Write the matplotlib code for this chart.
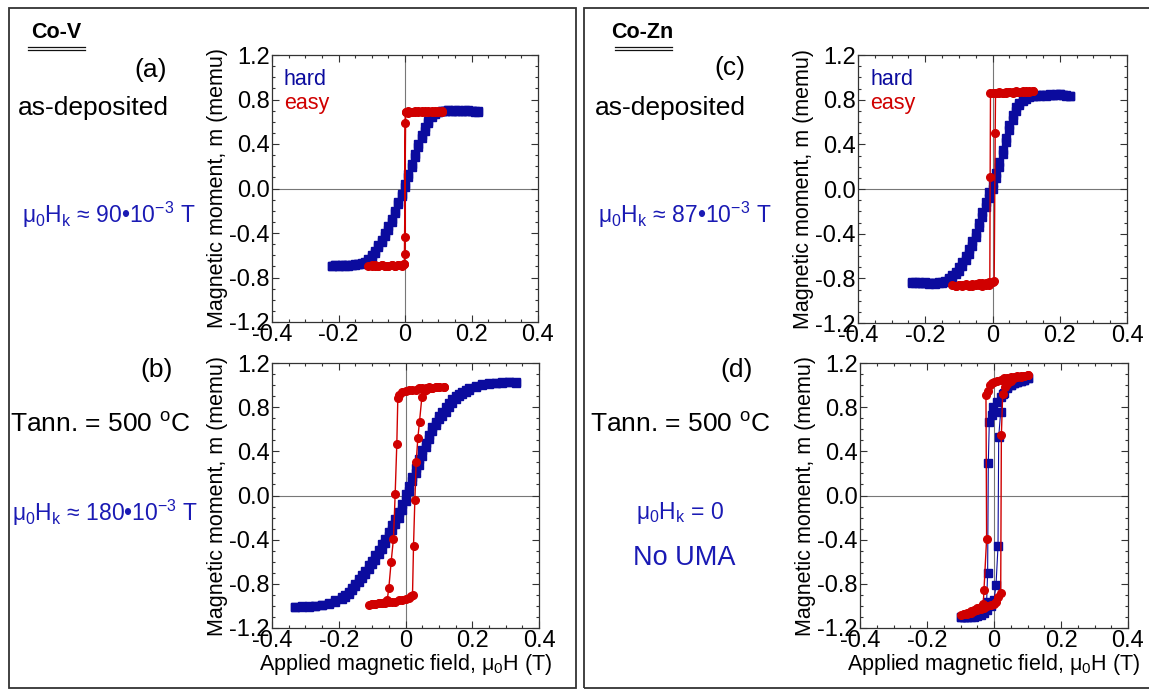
import matplotlib
matplotlib.use('Agg')
import matplotlib.pyplot as plt
from matplotlib.ticker import MultipleLocator, FixedLocator
from matplotlib.patches import Rectangle
from matplotlib.lines import Line2D

plt.rcParams['font.family'] = ['Liberation Sans', 'DejaVu Sans']
plt.rcParams['mathtext.fontset'] = 'custom'
plt.rcParams['mathtext.rm'] = 'Liberation Sans'
plt.rcParams['mathtext.it'] = 'Liberation Sans'
plt.rcParams['mathtext.bf'] = 'Liberation Sans:bold'
plt.rcParams['axes.unicode_minus'] = False

BLUE = '#0b0b9e'
BLUE_TXT = '#1a1ab4'
RED = '#d00000'

# ---------------- data (field in T, moment in memu) ----------------
# (a) Co-V as-deposited
a_hard_h = [-0.22, -0.21, -0.20, -0.19, -0.18, -0.17, -0.16, -0.15, -0.14, -0.13, -0.12,
            -0.11, -0.10, -0.09, -0.08, -0.07, -0.06, -0.05, -0.04, -0.03, -0.02, -0.01,
            0.00, 0.01, 0.02, 0.03, 0.04, 0.05, 0.06, 0.07, 0.08, 0.09, 0.10, 0.11,
            0.12, 0.13, 0.14, 0.15, 0.16, 0.17, 0.18, 0.19, 0.20, 0.21, 0.22]
a_hard_up = [-0.70, -0.69, -0.70, -0.69, -0.69, -0.70, -0.69, -0.69, -0.68, -0.68, -0.67,
             -0.65, -0.62, -0.58, -0.53, -0.48, -0.43, -0.37, -0.30, -0.22, -0.14, -0.07,
             0.01, 0.10, 0.19, 0.28, 0.37, 0.45, 0.52, 0.59, 0.64, 0.67, 0.69, 0.70,
             0.70, 0.71, 0.70, 0.71, 0.70, 0.70, 0.71, 0.70, 0.70, 0.69, 0.70]
a_hard_down = [-0.70, -0.69, -0.70, -0.69, -0.70, -0.69, -0.69, -0.68, -0.68, -0.67, -0.66,
               -0.63, -0.60, -0.56, -0.51, -0.46, -0.40, -0.34, -0.27, -0.20, -0.12, -0.05,
               0.04, 0.13, 0.22, 0.31, 0.40, 0.48, 0.55, 0.61, 0.66, 0.68, 0.69, 0.70,
               0.70, 0.71, 0.70, 0.70, 0.71, 0.70, 0.70, 0.71, 0.70, 0.70, 0.69]
a_easy_h = [0.11, 0.10, 0.09, 0.08, 0.07, 0.06, 0.05, 0.04, 0.03, 0.02, 0.01,
            0.002, 0.0, 0.0, 0.0, -0.002,
            -0.01, -0.02, -0.03, -0.04, -0.05, -0.06, -0.07, -0.08, -0.09, -0.10, -0.11,
            -0.10, -0.09, -0.08, -0.07, -0.06, -0.05, -0.04, -0.03, -0.02, -0.01,
            -0.002, 0.002,
            0.01, 0.02, 0.03, 0.04, 0.05, 0.06, 0.07, 0.08, 0.09, 0.10, 0.11]
a_easy_m = [0.70, 0.69, 0.70, 0.69, 0.70, 0.69, 0.69, 0.70, 0.69, 0.69, 0.68,
            0.69, 0.59, -0.44, -0.59, -0.68,
            -0.70, -0.69, -0.70, -0.69, -0.70, -0.70, -0.69, -0.70, -0.70, -0.69, -0.70,
            -0.70, -0.69, -0.70, -0.69, -0.70, -0.70, -0.69, -0.70, -0.69, -0.69,
            -0.68, 0.69,
            0.70, 0.69, 0.70, 0.69, 0.70, 0.70, 0.69, 0.70, 0.69, 0.70, 0.69]

# (b) Co-V annealed 500 C
b_hard_h = [-0.33, -0.31, -0.29, -0.27, -0.25, -0.23, -0.21, -0.19,
            -0.18, -0.17, -0.16, -0.15, -0.14, -0.13, -0.12, -0.11, -0.10, -0.09,
            -0.08, -0.07, -0.06, -0.05, -0.04, -0.03, -0.02, -0.01, 0.00, 0.01,
            0.02, 0.03, 0.04, 0.05, 0.06, 0.07, 0.08, 0.09, 0.10, 0.11, 0.12,
            0.13, 0.14, 0.15, 0.16, 0.17, 0.18,
            0.19, 0.21, 0.23, 0.25, 0.27, 0.29, 0.31, 0.33]
b_hard_up = [-1.01, -1.00, -1.01, -1.00, -0.99, -0.98, -0.96, -0.94,
             -0.92, -0.89, -0.86, -0.82, -0.78, -0.75, -0.71, -0.67, -0.62, -0.58,
             -0.53, -0.48, -0.43, -0.37, -0.31, -0.26, -0.20, -0.13, -0.05, 0.04,
             0.13, 0.20, 0.28, 0.36, 0.44, 0.51, 0.58, 0.64, 0.69, 0.72, 0.76,
             0.80, 0.84, 0.87, 0.90, 0.92, 0.94,
             0.96, 0.98, 1.00, 1.01, 1.02, 1.02, 1.03, 1.03]
b_hard_down = [-1.01, -1.01, -1.00, -1.00, -0.99, -0.97, -0.95, -0.92,
               -0.90, -0.87, -0.84, -0.80, -0.76, -0.72, -0.68, -0.63, -0.59, -0.54,
               -0.49, -0.44, -0.39, -0.33, -0.27, -0.21, -0.15, -0.08, 0.01, 0.09,
               0.17, 0.25, 0.33, 0.41, 0.48, 0.55, 0.62, 0.67, 0.72, 0.76, 0.80,
               0.84, 0.87, 0.90, 0.92, 0.94, 0.96,
               0.97, 0.99, 1.01, 1.02, 1.02, 1.03, 1.03, 1.02]
b_easy_h = [0.115, 0.10, 0.09, 0.08, 0.07, 0.06, 0.05, 0.04, 0.03, 0.02, 0.01, 0.0,
            -0.01, -0.018, -0.023, -0.026, -0.031, -0.036, -0.043, -0.05,
            -0.055, -0.06, -0.07, -0.08, -0.09, -0.10, -0.11,
            -0.10, -0.09, -0.08, -0.07, -0.06, -0.05, -0.04, -0.03, -0.02, -0.01,
            0.0, 0.01, 0.017, 0.021, 0.024, 0.028, 0.032, 0.037, 0.042, 0.049,
            0.055, 0.06, 0.07, 0.08, 0.09, 0.10, 0.115]
b_easy_m = [0.98, 0.98, 0.98, 0.97, 0.98, 0.97, 0.97, 0.97, 0.96, 0.96, 0.96, 0.95,
            0.94, 0.91, 0.88, 0.47, 0.01, -0.39, -0.60, -0.84,
            -0.95, -0.96, -0.97, -0.97, -0.98, -0.98, -0.99,
            -0.98, -0.98, -0.97, -0.97, -0.97, -0.96, -0.96, -0.96, -0.95, -0.95,
            -0.94, -0.93, -0.91, -0.90, -0.46, -0.04, 0.30, 0.52, 0.67, 0.89,
            0.95, 0.96, 0.97, 0.97, 0.98, 0.98, 0.98]

# (c) Co-Zn as-deposited
c_hard_h = [-0.24, -0.23, -0.22, -0.21, -0.20, -0.19, -0.18, -0.17, -0.16, -0.15, -0.14, -0.13,
            -0.12, -0.11, -0.10, -0.09, -0.08, -0.07, -0.06, -0.05, -0.04, -0.03, -0.02, -0.01,
            0.00, 0.01, 0.02, 0.03, 0.04, 0.05, 0.06, 0.07, 0.08, 0.09, 0.10, 0.11,
            0.12, 0.13, 0.14, 0.15, 0.16, 0.17, 0.18, 0.19, 0.20, 0.21, 0.22, 0.23]
c_hard_up = [-0.83, -0.84, -0.83, -0.84, -0.84, -0.85, -0.84, -0.84, -0.83, -0.84, -0.83, -0.81,
             -0.79, -0.76, -0.73, -0.69, -0.64, -0.58, -0.51, -0.43, -0.34, -0.25, -0.16, -0.08,
             0.00, 0.10, 0.20, 0.31, 0.42, 0.53, 0.62, 0.70, 0.75, 0.79, 0.81, 0.82,
             0.83, 0.83, 0.84, 0.84, 0.83, 0.84, 0.84, 0.85, 0.85, 0.84, 0.83, 0.83]
c_hard_down = [-0.84, -0.83, -0.84, -0.84, -0.83, -0.84, -0.84, -0.85, -0.84, -0.83, -0.82, -0.80,
               -0.77, -0.74, -0.70, -0.65, -0.60, -0.54, -0.47, -0.39, -0.30, -0.21, -0.12, -0.03,
               0.05, 0.14, 0.24, 0.35, 0.46, 0.57, 0.66, 0.73, 0.77, 0.80, 0.82, 0.83,
               0.83, 0.84, 0.83, 0.84, 0.84, 0.85, 0.84, 0.84, 0.85, 0.84, 0.84, 0.83]
c_easy_h = [0.12, 0.11, 0.10, 0.09, 0.08, 0.07, 0.06, 0.05, 0.04, 0.03, 0.02, 0.01, 0.0,
            -0.006, -0.007, -0.008,
            -0.01, -0.02, -0.03, -0.04, -0.05, -0.06, -0.07, -0.08, -0.09, -0.10, -0.11, -0.12,
            -0.11, -0.10, -0.09, -0.08, -0.07, -0.06, -0.05, -0.04, -0.03, -0.02, -0.01,
            0.0, 0.005, 0.008, 0.009,
            0.01, 0.02, 0.03, 0.04, 0.05, 0.06, 0.07, 0.08, 0.09, 0.10, 0.11, 0.12]
c_easy_m = [0.88, 0.87, 0.88, 0.87, 0.87, 0.87, 0.86, 0.87, 0.86, 0.86, 0.86, 0.86, 0.86,
            0.86, 0.11, -0.84,
            -0.86, -0.86, -0.87, -0.86, -0.86, -0.87, -0.87, -0.86, -0.87, -0.86, -0.87, -0.86,
            -0.87, -0.86, -0.86, -0.85, -0.86, -0.85, -0.85, -0.84, -0.84, -0.84, -0.83,
            -0.83, -0.82, 0.50, 0.86,
            0.86, 0.87, 0.86, 0.87, 0.87, 0.87, 0.88, 0.87, 0.88, 0.87, 0.88, 0.88]

# (d) Co-Zn annealed 500 C
d_hard_down_h = [0.10, 0.09, 0.08, 0.07, 0.06, 0.05, 0.04, 0.03, 0.02, 0.01,
                 -0.002, -0.007, -0.014, -0.017, -0.019, -0.022,
                 -0.03, -0.04, -0.05, -0.06, -0.07, -0.08, -0.09, -0.10]
d_hard_down_m = [1.06, 1.05, 1.04, 1.03, 1.02, 1.00, 0.97, 0.93, 0.89, 0.85,
                 0.80, 0.73, 0.67, 0.29, -0.70, -0.96,
                 -1.03, -1.06, -1.08, -1.09, -1.09, -1.10, -1.10, -1.10]
d_hard_up_h = [-0.10, -0.09, -0.08, -0.07, -0.06, -0.05, -0.04, -0.03, -0.02, -0.01, 0.0,
               0.006, 0.012, 0.014, 0.02, 0.028,
               0.04, 0.05, 0.06, 0.07, 0.08, 0.09, 0.10]
d_hard_up_m = [-1.10, -1.10, -1.10, -1.10, -1.10, -1.09, -1.08, -1.06, -1.04, -1.00, -0.95,
               -0.81, -0.46, 0.53, 0.76, 0.92,
               0.98, 1.00, 1.02, 1.03, 1.04, 1.05, 1.06]
d_easy_h = [0.10, 0.09, 0.08, 0.07, 0.06, 0.05, 0.04, 0.03, 0.02, 0.01, 0.0,
            -0.006, -0.012, -0.019, -0.024, -0.022, -0.03, -0.032,
            -0.04, -0.05, -0.06, -0.07, -0.08, -0.09, -0.10,
            -0.09, -0.08, -0.07, -0.06, -0.05, -0.04, -0.03, -0.02, -0.01, 0.0,
            0.007, 0.013, 0.02, 0.022, 0.026, 0.032, 0.038,
            0.05, 0.06, 0.07, 0.08, 0.09, 0.10]
d_easy_m = [1.09, 1.08, 1.08, 1.08, 1.07, 1.07, 1.06, 1.06, 1.05, 1.04, 1.03,
            1.02, 1.00, 0.95, 0.91, -0.39, -0.86, -0.98,
            -1.01, -1.02, -1.04, -1.05, -1.06, -1.07, -1.08,
            -1.07, -1.07, -1.06, -1.05, -1.04, -1.03, -1.02, -1.00, -0.99, -0.98,
            -0.96, -0.92, -0.88, 0.55, 0.92, 0.98, 1.01,
            1.04, 1.06, 1.07, 1.07, 1.08, 1.09]

x_ticks = [-0.4, -0.2, 0.0, 0.2, 0.4]
x_tick_labels = ['-0.4', '-0.2', '0', '0.2', '0.4']
y_ticks = [-1.2, -0.8, -0.4, 0.0, 0.4, 0.8, 1.2]
y_tick_labels = ['-1.2', '-0.8', '-0.4', '0.0', '0.4', '0.8', '1.2']

W, H = 1149, 690
fig = plt.figure(figsize=(W / 100, H / 100), dpi=100)


def px(x, y):
    # pixel position (from top-left) -> figure fraction
    return x / W, 1 - y / H


def setup_axes(rect, xlabel=False):
    ax = fig.add_axes(rect)
    ax.set_xlim(-0.4, 0.4)
    ax.set_ylim(-1.2, 1.2)
    ax.xaxis.set_major_locator(FixedLocator(x_ticks))
    ax.set_xticklabels(x_tick_labels)
    ax.yaxis.set_major_locator(FixedLocator(y_ticks))
    ax.set_yticklabels(y_tick_labels)
    ax.xaxis.set_minor_locator(MultipleLocator(0.05))
    ax.yaxis.set_minor_locator(MultipleLocator(0.1))
    ax.tick_params(which='both', direction='in', top=True, right=True,
                   width=0.8, color='#333333', labelsize=17)
    ax.tick_params(which='major', length=5, pad=1.5)
    ax.tick_params(which='minor', length=2.5)
    for s in ax.spines.values():
        s.set_linewidth(0.9)
        s.set_color('#333333')
    ax.axhline(0, color='#777777', lw=0.8, zorder=0)
    ax.axvline(0, color='#777777', lw=0.8, zorder=0)
    ax.set_ylabel('Magnetic moment, m (memu)', fontsize=15.5, labelpad=1)
    if xlabel:
        ax.set_xlabel('Applied magnetic field, $\\mu_0$H (T)', fontsize=15.5, labelpad=0)
    return ax


def hard(ax, h, m, lw=0.8):
    ax.plot(h, m, color=BLUE, marker='s', ms=5.5, lw=lw, mec=BLUE, zorder=2)


def easy(ax, h, m):
    ax.plot(h, m, color=RED, marker='o', ms=5.5, lw=1.0, mec=RED, zorder=3)


def legend_text(ax):
    ax.text(0.045, 0.91, 'hard', color=BLUE, fontsize=15.5, transform=ax.transAxes, va='center')
    ax.text(0.045, 0.82, 'easy', color=RED, fontsize=15.5, transform=ax.transAxes, va='center')


# panels
ax_a = setup_axes([272 / W, 1 - 322 / H, 266 / W, 267 / H])
hard(ax_a, a_hard_h, a_hard_up, lw=0.5)
hard(ax_a, a_hard_h, a_hard_down, lw=0.5)
easy(ax_a, a_easy_h, a_easy_m)
legend_text(ax_a)

ax_b = setup_axes([272 / W, 1 - 628 / H, 267 / W, 265 / H], xlabel=True)
hard(ax_b, b_hard_h, b_hard_up, lw=0.5)
hard(ax_b, b_hard_h, b_hard_down, lw=0.5)
easy(ax_b, b_easy_h, b_easy_m)

ax_c = setup_axes([858 / W, 1 - 323 / H, 269 / W, 268 / H])
hard(ax_c, c_hard_h, c_hard_up, lw=0.5)
hard(ax_c, c_hard_h, c_hard_down, lw=0.5)
easy(ax_c, c_easy_h, c_easy_m)
legend_text(ax_c)

ax_d = setup_axes([860 / W, 1 - 628 / H, 268 / W, 265 / H], xlabel=True)
hard(ax_d, d_hard_down_h, d_hard_down_m)
hard(ax_d, d_hard_up_h, d_hard_up_m)
easy(ax_d, d_easy_h, d_easy_m)

# outer frames
fig.add_artist(Rectangle(px(9, 688), 567 / W, 680 / H, fill=False,
                         lw=1.3, edgecolor='#333333', transform=fig.transFigure))
fig.add_artist(Rectangle(px(584, 688), 600 / W, 680 / H, fill=False,
                         lw=1.3, edgecolor='#333333', transform=fig.transFigure))

# alloy titles with double underline
fig.text(*px(56, 32), 'Co-V', fontsize=15.5, fontweight='bold', ha='center', va='center')
fig.text(*px(642, 33), 'Co-Zn', fontsize=15.5, fontweight='bold', ha='center', va='center')
for x0, x1 in [(28, 85), (615, 672)]:
    for yy in (47, 50):
        fig.add_artist(Line2D([x0 / W, x1 / W], [1 - yy / H] * 2, color='#111111', lw=0.9))

# left column annotations
fig.text(*px(151, 70), '(a)', fontsize=19, ha='center', va='center')
fig.text(*px(18, 108), 'as-deposited', fontsize=19, ha='left', va='center')
fig.text(*px(22, 215), 'μ$_0$H$_k$ ≈ 90•10$^{-3}$ T', fontsize=16.5, color=BLUE_TXT,
         ha='left', va='center')
fig.text(*px(157, 370), '(b)', fontsize=19, ha='center', va='center')
fig.text(*px(10, 425), 'Tann. = 500 $^{o}$C', fontsize=19, ha='left', va='center')
fig.text(*px(12, 513), 'μ$_0$H$_k$ ≈ 180•10$^{-3}$ T', fontsize=16.5, color=BLUE_TXT,
         ha='left', va='center')

# right column annotations
fig.text(*px(730, 68), '(c)', fontsize=19, ha='center', va='center')
fig.text(*px(595, 108), 'as-deposited', fontsize=19, ha='left', va='center')
fig.text(*px(598, 215), 'μ$_0$H$_k$ ≈ 87•10$^{-3}$ T', fontsize=16.5, color=BLUE_TXT,
         ha='left', va='center')
fig.text(*px(737, 370), '(d)', fontsize=19, ha='center', va='center')
fig.text(*px(590, 425), 'Tann. = 500 $^{o}$C', fontsize=19, ha='left', va='center')
fig.text(*px(680, 513), 'μ$_0$H$_k$ = 0', fontsize=16.5, color=BLUE_TXT,
         ha='center', va='center')
fig.text(*px(684, 558), 'No UMA', fontsize=19.5, color=BLUE_TXT, ha='center', va='center')

fig.savefig('out.png', dpi=100)
